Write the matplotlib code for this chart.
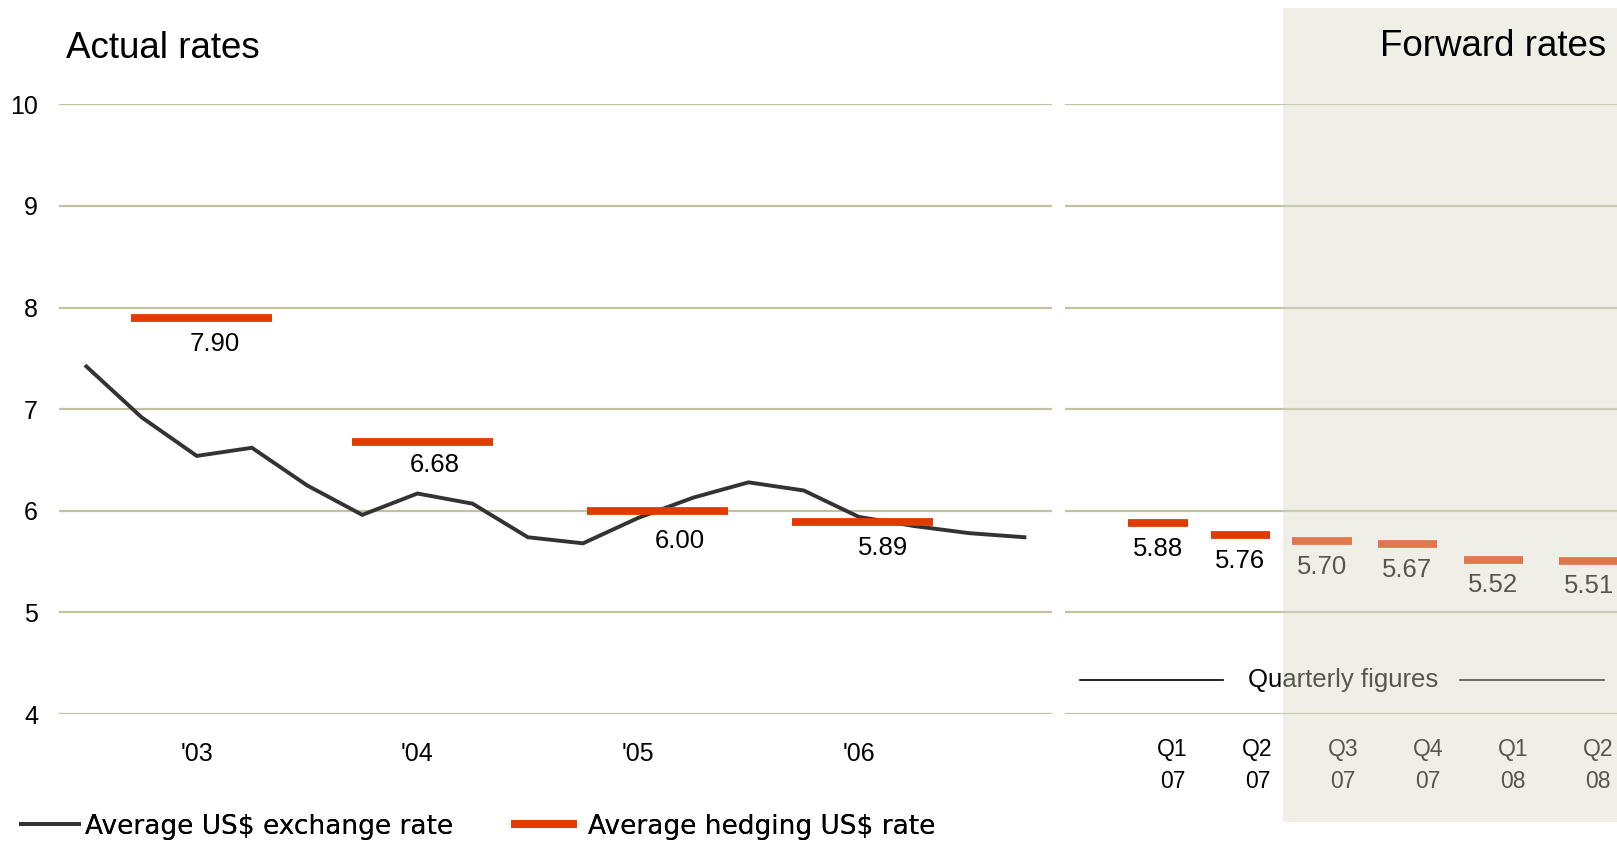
import matplotlib
matplotlib.use("Agg")
import matplotlib.pyplot as plt
from matplotlib.patches import Rectangle
from matplotlib.lines import Line2D

plt.rcParams["font.family"] = ["Liberation Sans", "DejaVu Sans"]

# --- data -------------------------------------------------------------
# quarterly average US$ exchange rate (actual)
exchange_rate = [7.42, 6.92, 6.54, 6.62, 6.25, 5.96, 6.17, 6.07, 5.74,
                 5.68, 5.93, 6.13, 6.28, 6.20, 5.94, 5.85, 5.78, 5.74]
year_labels = ["'03", "'04", "'05", "'06"]
annual_hedge = [7.90, 6.68, 6.00, 5.89]

quarter_labels = ["Q1\n07", "Q2\n07", "Q3\n07", "Q4\n07", "Q1\n08", "Q2\n08"]
forward_hedge = [5.88, 5.76, 5.70, 5.67, 5.52, 5.51]

# --- layout -----------------------------------------------------------
year_ticks = [2, 6, 10, 14]
annual_bar_x = [2.08, 6.09, 10.35, 14.07]
annual_label_x = [2.32, 6.32, 10.75, 14.43]
annual_label_dy = [-19, -17, -22, -19]
annual_bar_w = 2.55
quarter_bar_x = [-0.17, 0.80, 1.755, 2.76, 3.77, 4.89]
quarter_bar_w = 0.70

RED = "#e33a00"
LINE = "#333333"
GRID = "#c3c1a1"
W, H = 1617, 842

fig = plt.figure(figsize=(W / 100, H / 100), dpi=100)


def fx(px):
    return px / W


def fy(py):
    return 1 - py / H


bottom = fy(714.1)
height = fy(104.2) - bottom

ax1 = fig.add_axes([fx(58.8), bottom, fx(1052) - fx(58.8), height])
ax2 = fig.add_axes([fx(1065), bottom, 1 - fx(1065), height])

for ax in (ax1, ax2):
    ax.set_ylim(4, 10)
    ax.set_yticks(range(4, 11))
    for s in ax.spines.values():
        s.set_visible(False)
    ax.yaxis.grid(True, color=GRID, lw=1.6)
    ax.set_axisbelow(True)
    ax.tick_params(length=0)

# left panel: actual rates
ax1.set_xlim(-0.5, 17.5)
ax1.plot(range(len(exchange_rate)), exchange_rate, color=LINE, lw=2.8,
         solid_joinstyle="miter", zorder=3)
xs = [c - annual_bar_w / 2 for c in annual_bar_x]
xe = [c + annual_bar_w / 2 for c in annual_bar_x]
ax1.hlines(annual_hedge, xs, xe, color=RED, lw=5.6, zorder=4)
for lx, v, dy in zip(annual_label_x, annual_hedge, annual_label_dy):
    ax1.annotate(f"{v:.2f}", xy=(lx, v), xytext=(0, dy),
                 textcoords="offset points", ha="center", va="center",
                 fontsize=18.5)
ax1.set_xticks(year_ticks)
ax1.set_xticklabels(year_labels, fontsize=18)
ax1.tick_params(axis="x", pad=20)
ax1.tick_params(axis="y", labelsize=18, pad=15)

# right panel: quarterly forward rates
ax2.set_xlim(-1.26, 5.22)
ax2.set_yticklabels([])
qs = [c - quarter_bar_w / 2 for c in quarter_bar_x]
qe = [c + quarter_bar_w / 2 for c in quarter_bar_x]
ax2.hlines(forward_hedge, qs, qe, color=RED, lw=5.6, zorder=4)
for qx, v in zip(quarter_bar_x, forward_hedge):
    ax2.annotate(f"{v:.2f}", xy=(qx, v), xytext=(0, -18.5),
                 textcoords="offset points", ha="center", va="center",
                 fontsize=18.5)
ax2.set_xticks(range(len(quarter_labels)))
ax2.set_xticklabels(quarter_labels, fontsize=16.5, linespacing=1.5)
ax2.tick_params(axis="x", pad=17)

ax2.plot([-1.08, 0.59], [4.335, 4.335], color="black", lw=1.2)
ax2.plot([3.38, 5.07], [4.335, 4.335], color="black", lw=1.2)
ax2.text(2.0, 4.335, "Quarterly figures", ha="center", va="center",
         fontsize=18.5)

# titles
fig.text(fx(66), fy(49), "Actual rates", fontsize=26.5, ha="left",
         va="center")

# forecast shading laid over the forward quarters
fig.add_artist(Rectangle((fx(1283), fy(822)), 1 - fx(1283), fy(8) - fy(822),
                         transform=fig.transFigure, facecolor="#d9d7c5",
                         alpha=0.4, edgecolor="none", zorder=10))
fig.text(fx(1606), fy(47), "Forward rates", fontsize=26.5, ha="right",
         va="center", zorder=11)

# legend, one entry per block
legend_font = {"family": "DejaVu Sans", "size": 19}
entries = [
    (Line2D([], [], color=LINE, lw=2.8), "Average US$ exchange rate",
     20.6, 0.23),
    (Line2D([], [], color=RED, lw=5.6), "Average hedging US$ rate",
     514.6, 0.58),
]
for handle, text, left, pad in entries:
    leg = fig.legend([handle], [text], loc="center left",
                     bbox_to_anchor=(fx(left), fy(826.6)),
                     bbox_transform=fig.transFigure, frameon=False,
                     borderpad=0, borderaxespad=0, handlelength=2.2,
                     handletextpad=pad, prop=legend_font)
    fig.add_artist(leg)

fig.savefig("out.png", dpi=100)
